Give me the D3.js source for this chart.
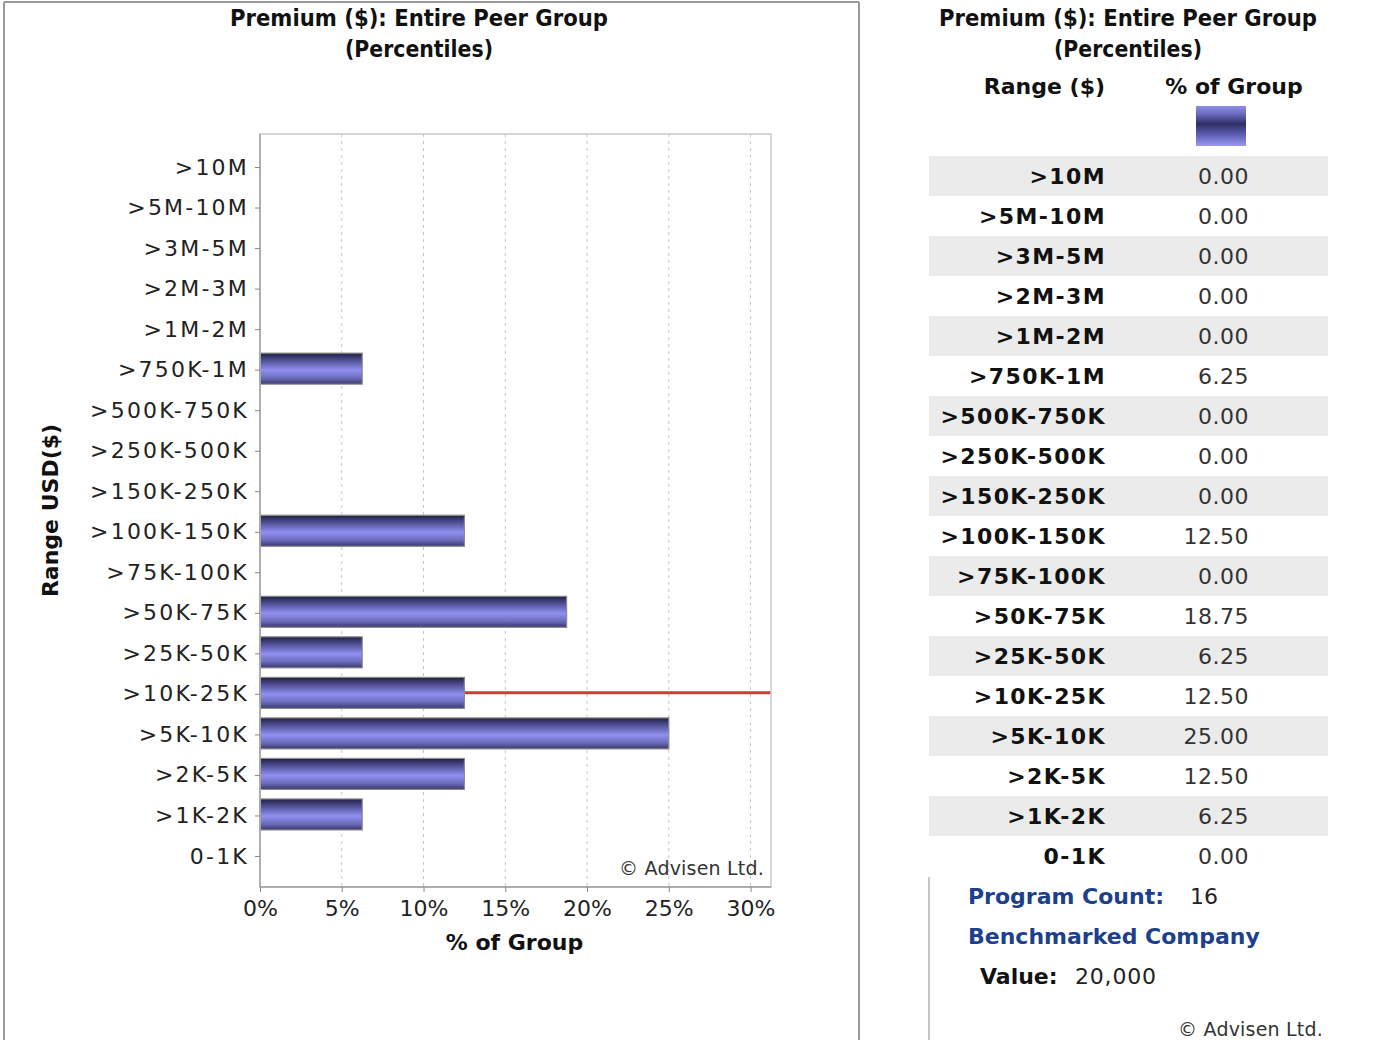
<!DOCTYPE html>
<html>
<head>
<meta charset="utf-8">
<script src="https://cdn.jsdelivr.net/npm/d3@7"></script>
<style>
  html, body { margin: 0; padding: 0; background: #fff; }
  svg text { font-family: "DejaVu Sans", "Noto Sans", sans-serif; }
</style>
</head>
<body>
<svg id="chart" width="1396" height="1040"></svg>
<script>
// Premium ranges (top to bottom) and share of the peer group in each (%)
const categories = [">10M", ">5M-10M", ">3M-5M", ">2M-3M", ">1M-2M", ">750K-1M",
  ">500K-750K", ">250K-500K", ">150K-250K", ">100K-150K", ">75K-100K",
  ">50K-75K", ">25K-50K", ">10K-25K", ">5K-10K", ">2K-5K", ">1K-2K", "0-1K"];
const percentOfGroup = [0, 0, 0, 0, 0, 6.25, 0, 0, 0, 12.5, 0, 18.75, 6.25, 12.5, 25, 12.5, 6.25, 0];
const xTicks = [0, 5, 10, 15, 20, 25, 30];
const benchmarkRange = ">10K-25K";
const benchmarkValue = "20,000";
const programCount = 16;

const svg = d3.select("#chart");
const defs = svg.append("defs");

// Bar shading: dark edges, light band just below the middle
const barGrad = defs.append("linearGradient").attr("id", "barGrad")
  .attr("x1", 0).attr("y1", 0).attr("x2", 0).attr("y2", 1);
[[0, "#1f1f40"], [0.18, "#454584"], [0.55, "#9090f2"], [0.8, "#6c6cbc"], [1, "#38386a"]]
  .forEach(([o, c]) => barGrad.append("stop").attr("offset", o).attr("stop-color", c));

const legGrad = defs.append("linearGradient").attr("id", "legGrad")
  .attr("x1", 0).attr("y1", 0).attr("x2", 0).attr("y2", 1);
[[0, "#8e8ee6"], [0.2, "#6a6ac0"], [0.45, "#2e2e66"], [0.7, "#5a5ab0"], [1, "#9a9af4"]]
  .forEach(([o, c]) => legGrad.append("stop").attr("offset", o).attr("stop-color", c));

// Frame around the chart panel
const frame = svg.append("g").attr("stroke", "#9a9a9a").attr("stroke-width", 2);
frame.append("line").attr("x1", 4).attr("x2", 859).attr("y1", 2).attr("y2", 2);
frame.append("line").attr("x1", 4).attr("x2", 4).attr("y1", 2).attr("y2", 1040);
frame.append("line").attr("x1", 859).attr("x2", 859).attr("y1", 2).attr("y2", 1040);

function title(cx) {
  const t = svg.append("g").attr("font-weight", "bold").attr("fill", "#111")
    .attr("font-size", 23).attr("text-anchor", "middle");
  t.append("text").attr("x", cx).attr("y", 26)
    .attr("textLength", 378).attr("lengthAdjust", "spacingAndGlyphs")
    .text("Premium ($): Entire Peer Group");
  t.append("text").attr("x", cx).attr("y", 57)
    .attr("textLength", 148).attr("lengthAdjust", "spacingAndGlyphs")
    .text("(Percentiles)");
}

// ---------- Bar chart ----------
title(419);

const plot = { left: 260, right: 771, top: 134, bottom: 887 };
const x = d3.scaleLinear().domain([0, 31.25]).range([plot.left, plot.right]);
const y = d3.scalePoint().domain(categories).range([plot.top, plot.bottom]).padding(0.79);
const barH = 31;

const g = svg.append("g");

// dashed vertical grid
g.append("g").selectAll("line").data(xTicks.filter(d => d > 0)).join("line")
  .attr("x1", d => x(d)).attr("x2", d => x(d))
  .attr("y1", plot.top).attr("y2", plot.bottom)
  .attr("stroke", "#c4c4c4").attr("stroke-width", 1).attr("stroke-dasharray", "3,4");

// benchmarked company marker line
g.append("line")
  .attr("x1", x(0)).attr("x2", plot.right)
  .attr("y1", y(benchmarkRange)).attr("y2", y(benchmarkRange))
  .attr("stroke", "#d23a3a").attr("stroke-width", 3);

// bars
g.append("g").selectAll("rect")
  .data(categories.map((c, i) => ({ c, v: percentOfGroup[i] })).filter(d => d.v > 0))
  .join("rect")
  .attr("x", x(0)).attr("y", d => y(d.c) - barH / 2)
  .attr("width", d => x(d.v) - x(0)).attr("height", barH)
  .attr("fill", "url(#barGrad)").attr("stroke", "#8a8a8a").attr("stroke-width", 1.2);

// plot border
g.append("rect").attr("x", plot.left).attr("y", plot.top)
  .attr("width", plot.right - plot.left).attr("height", plot.bottom - plot.top)
  .attr("fill", "none").attr("stroke", "#c8c8c8").attr("stroke-width", 1.5);
g.append("line").attr("x1", plot.left).attr("x2", plot.left)
  .attr("y1", plot.top).attr("y2", plot.bottom).attr("stroke", "#a0a0a0").attr("stroke-width", 1.5);
g.append("line").attr("x1", plot.left).attr("x2", plot.right)
  .attr("y1", plot.bottom).attr("y2", plot.bottom).attr("stroke", "#a0a0a0").attr("stroke-width", 1.5);

// y axis
const yAxis = g.append("g").attr("transform", `translate(${plot.left},1)`)
  .call(d3.axisLeft(y).tickSize(5).tickPadding(6));
yAxis.select(".domain").remove();
yAxis.selectAll(".tick line").attr("stroke", "#888");
yAxis.selectAll(".tick text").attr("font-size", 22).attr("fill", "#222")
  .attr("font-family", "DejaVu Sans, sans-serif").style("letter-spacing", "2.2px");

// x axis
const xAxis = g.append("g").attr("transform", `translate(0,${plot.bottom})`)
  .call(d3.axisBottom(x).tickValues(xTicks).tickFormat(d => d + "%").tickSize(5).tickPadding(8));
xAxis.select(".domain").remove();
xAxis.selectAll(".tick line").attr("stroke", "#888");
xAxis.selectAll(".tick text").attr("font-size", 22).attr("fill", "#222")
  .attr("font-family", "DejaVu Sans, sans-serif");

// axis titles
g.append("text").attr("x", (plot.left + plot.right) / 2 - 1).attr("y", 950)
  .attr("text-anchor", "middle").attr("font-size", 22).attr("font-weight", "bold").attr("fill", "#111")
  .text("% of Group");
g.append("text").attr("transform", `translate(58,${(plot.top + plot.bottom) / 2}) rotate(-90)`)
  .attr("text-anchor", "middle").attr("font-size", 22).attr("font-weight", "bold").attr("fill", "#111")
  .text("Range USD($)");

g.append("text").attr("x", 764).attr("y", 875).attr("text-anchor", "end")
  .attr("font-size", 19).attr("fill", "#333").style("letter-spacing", "0.2px")
  .text("© Advisen Ltd.");

// ---------- Data table ----------
title(1128);

const tbl = { left: 929, right: 1328, top: 156 };
const rowH = 40;
const row = d3.scaleBand().domain(categories)
  .range([tbl.top, tbl.top + rowH * categories.length]);

const t = svg.append("g");
t.append("text").attr("x", 1105).attr("y", 94).attr("text-anchor", "end")
  .attr("font-size", 22).attr("font-weight", "bold").attr("fill", "#111").text("Range ($)");
t.append("text").attr("x", 1234).attr("y", 94).attr("text-anchor", "middle")
  .attr("font-size", 22).attr("font-weight", "bold").attr("fill", "#111").text("% of Group");
t.append("rect").attr("x", 1196).attr("y", 106).attr("width", 50).attr("height", 40)
  .attr("fill", "url(#legGrad)");

const rows = t.append("g").selectAll("g").data(categories).join("g")
  .attr("transform", d => `translate(0,${row(d)})`);
rows.append("rect").attr("x", tbl.left).attr("width", tbl.right - tbl.left)
  .attr("height", row.bandwidth())
  .attr("fill", (d, i) => i % 2 === 0 ? "#ebebeb" : "#fff");
rows.append("text").attr("x", 1106).attr("y", rowH / 2).attr("dy", "0.36em")
  .attr("text-anchor", "end").attr("font-size", 22).attr("font-weight", "bold")
  .attr("fill", "#111").style("letter-spacing", "1.4px").text(d => d);
rows.append("text").attr("x", 1249).attr("y", rowH / 2).attr("dy", "0.36em")
  .attr("text-anchor", "end").attr("font-size", 22).attr("fill", "#333")
  .style("letter-spacing", "0.5px")
  .text((d, i) => percentOfGroup[i].toFixed(2));

// summary block
t.append("line").attr("x1", 929).attr("x2", 929).attr("y1", 877).attr("y2", 1040)
  .attr("stroke", "#c8c8c8").attr("stroke-width", 2);
t.append("text").attr("x", 968).attr("y", 904).attr("font-size", 22).attr("font-weight", "bold")
  .attr("fill", "#1d3f8c").text("Program Count:");
t.append("text").attr("x", 1190).attr("y", 904).attr("font-size", 22).attr("fill", "#222")
  .text(programCount);
t.append("text").attr("x", 968).attr("y", 944).attr("font-size", 22).attr("font-weight", "bold")
  .attr("fill", "#1d3f8c").text("Benchmarked Company");
t.append("text").attr("x", 980).attr("y", 984).attr("font-size", 22).attr("font-weight", "bold")
  .attr("fill", "#111").text("Value:");
t.append("text").attr("x", 1075).attr("y", 984).attr("font-size", 22).attr("fill", "#222")
  .style("letter-spacing", "0.8px").text(benchmarkValue);
t.append("text").attr("x", 1323).attr("y", 1036).attr("text-anchor", "end")
  .attr("font-size", 19).attr("fill", "#333").style("letter-spacing", "0.2px")
  .text("© Advisen Ltd.");
</script>
</body>
</html>
